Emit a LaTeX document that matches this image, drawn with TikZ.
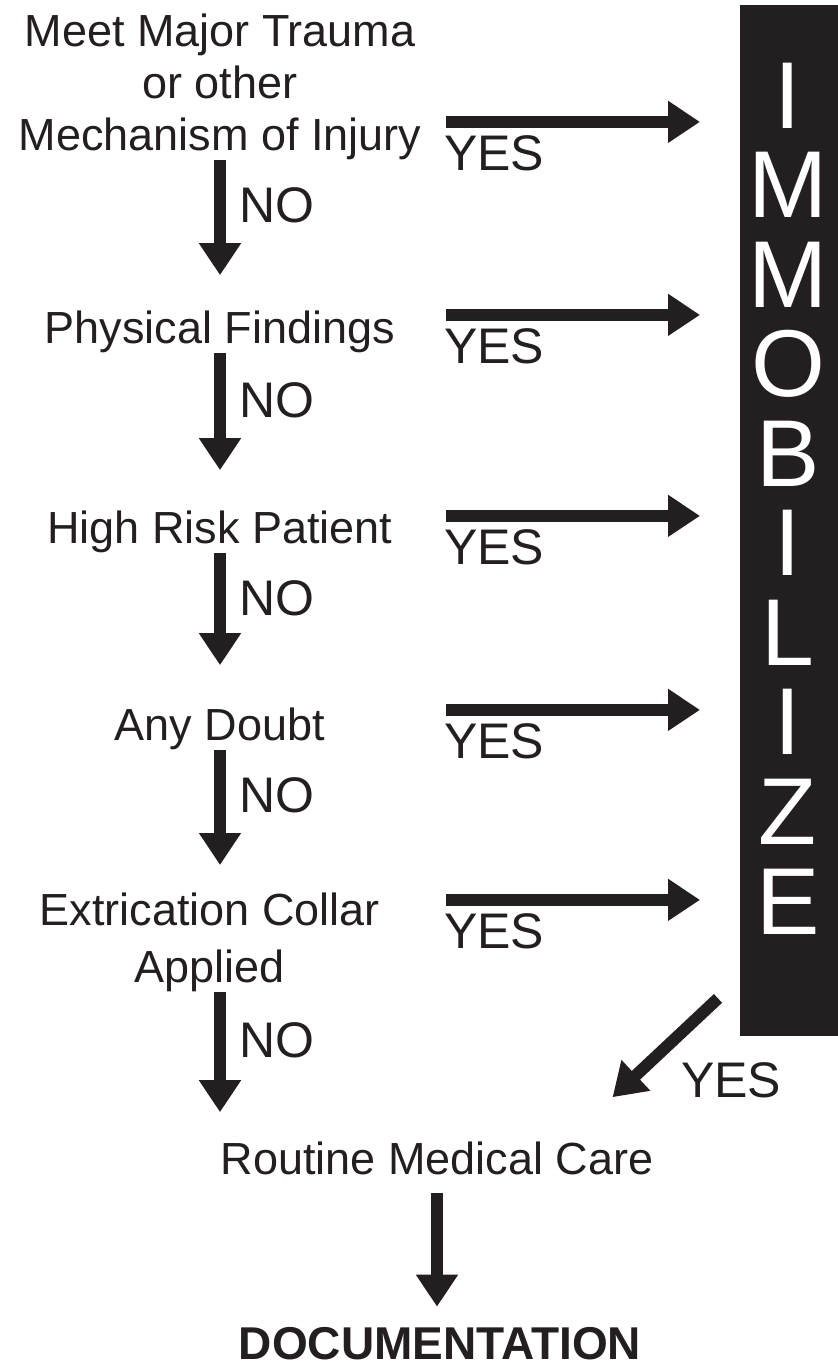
\documentclass[tikz,border=0pt]{standalone}
\usepackage{fontspec}
\setmainfont{Liberation Sans}
\usetikzlibrary{arrows.meta,positioning,calc}
\definecolor{inkblack}{RGB}{35,31,32}

\begin{document}
\begin{tikzpicture}[
    x=1pt, y=-1pt,
    qtext/.style={inner sep=0pt, text=inkblack, align=center,
                  font=\fontsize{45}{52}\selectfont},
    answer/.style={inner sep=0pt, text=inkblack, anchor=base west,
                   font=\fontsize{50}{56}\selectfont},
    arr/.style={draw=inkblack, line width=12pt,
                -{Triangle[length=32pt,width=40pt]}},
    letter/.style={inner sep=0pt, text=white, anchor=base,
                   font=\fontsize{95}{100}\selectfont},
]
\useasboundingbox (0,0) rectangle (838,1366);

% IMMOBILIZE bar
\node[fill=inkblack, inner sep=0pt, minimum width=98pt, minimum height=1031pt,
      anchor=north west] (box) at (740,5) {};
\foreach \ch [count=\i] in {I,M,M,O,B,I,L,I,Z,E}
  \node[letter] (l\i) at (788, {128+89.56*(\i-1)}) {\ch};

% Questions
\node[qtext, anchor=north] (q1) at (220,14)
  {Meet Major Trauma\\or other\\Mechanism of Injury};
\node[qtext, anchor=base] (q2) at (220,343) {Physical Findings};
\node[qtext, anchor=base] (q3) at (220,543) {High Risk Patient};
\node[qtext, anchor=base] (q4) at (220,740) {Any Doubt};
\node[qtext, anchor=north, font=\fontsize{45}{57}\selectfont] (q5) at (210,893)
  {Extrication Collar\\Applied};

% Outcomes
\node[qtext, anchor=base] (rmc) at (437,1174) {Routine Medical Care};
\node[qtext, anchor=base, font=\fontsize{46}{50}\selectfont\bfseries] (doc)
  at (440,1359) {DOCUMENTATION};

% YES labels and arrows to the bar
\node[answer] (y1) at (444,170) {YES};
\node[answer] (y2) at (444,363) {YES};
\node[answer] (y3) at (444,564) {YES};
\node[answer] (y4) at (444,758) {YES};
\node[answer] (y5) at (444,948) {YES};
\foreach \i in {1,...,5} {
  \coordinate (h\i) at ([xshift=2pt,yshift=13pt]y\i.north west);
  \draw[arr, shorten >=40pt] (h\i) -- (h\i -| box.west);
}

% NO labels and arrows down
\node[answer] (n1) at (239,222) {NO};
\node[answer] (n2) at (239,417) {NO};
\node[answer] (n3) at (239,615) {NO};
\node[answer] (n4) at (239,812) {NO};
\node[answer] (n5) at (239,1057) {NO};
\foreach \a/\b/\s in {q1/q2/35, q2/q3/40, q3/q4/42, q4/q5/28}
  \draw[arr, shorten >=\s pt] (\a.south) -- (\a.south |- \b.north);
\draw[arr, shorten >=29pt] (q5.south -| q4.south) -- (q4.south |- rmc.north);

% bar back to routine care
\coordinate (d0) at ([shift={(-22,-38)}]box.south west);
\coordinate (d1) at ([shift={(-41,-44)}]rmc.north east);
\draw[arr] (d0) -- (d1);
\node[answer] (y6) at (681,1097) {YES};

% routine care to documentation
\draw[arr, shorten <=18pt, shorten >=20pt] (rmc.south) -- (rmc.south |- doc.north);

\end{tikzpicture}
\end{document}
